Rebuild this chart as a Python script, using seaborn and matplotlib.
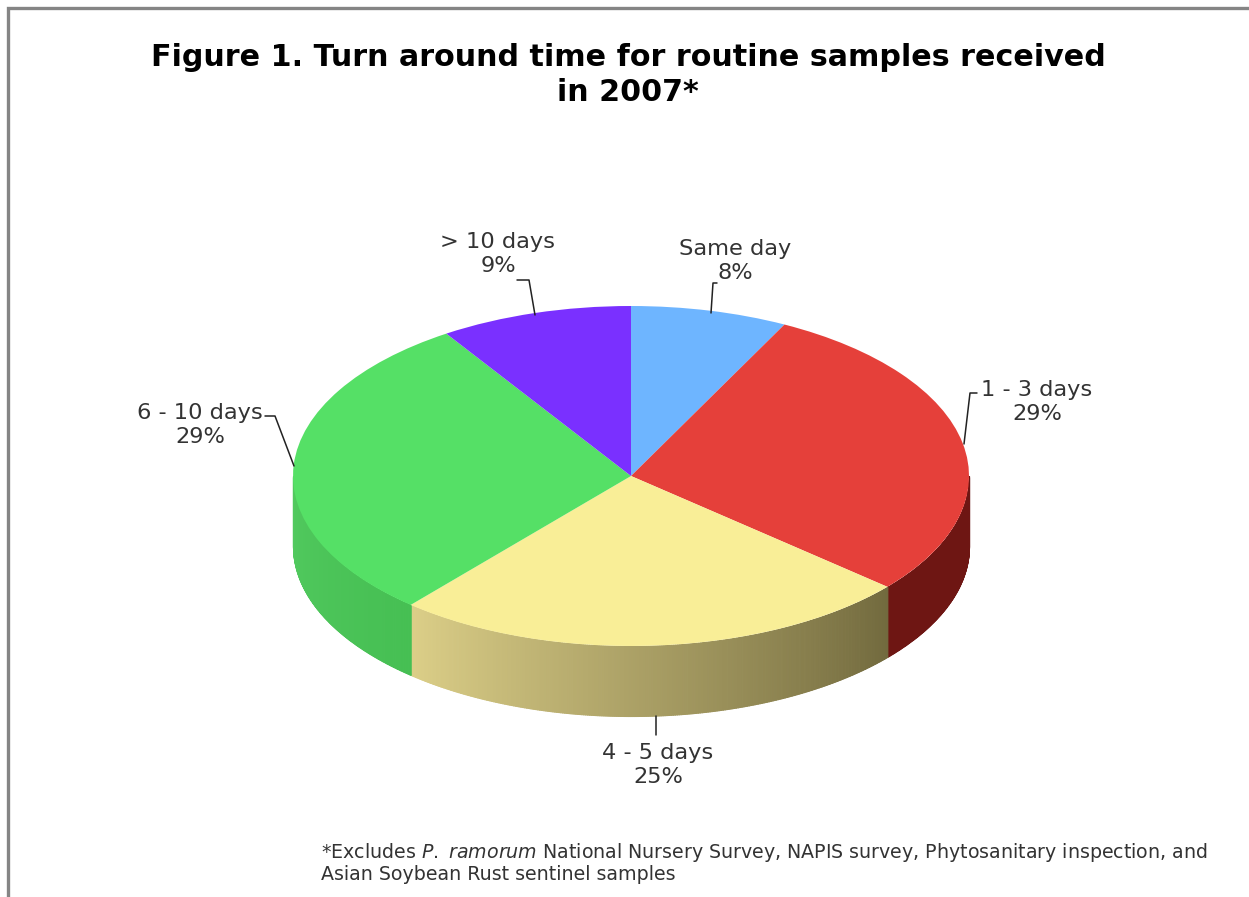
import numpy as np
import matplotlib
matplotlib.use("Agg")
import matplotlib.pyplot as plt
from matplotlib.colors import to_rgb
import seaborn as sns

# ── Data ───────────────────────────────────────────────────────────────────────
CATEGORIES = ["Same day", "1 - 3 days", "4 - 5 days", "6 - 10 days", "> 10 days"]
PERCENT_LABELS = [8, 29, 25, 29, 9]
# slice sizes, the labels above are rounded
SHARES = [7.5, 28.8, 25.0, 29.5, 9.2]
TOP_COLORS = ["#6eb5ff", "#e5403a", "#f9ee97", "#55e066", "#7a30ff"]
# side shade at the left and right end of each wedge's visible rim
SIDE_LEFT = ["#4a7fb5", "#6e1613", "#dccf88", "#52ca5f", "#5a22c0"]
SIDE_RIGHT = ["#4a7fb5", "#6e1613", "#726a3e", "#46bf53", "#5a22c0"]

W, H = 1249, 897
CX, CY, RX, RY, DEPTH = 631, 476, 338, 170, 70

sns.set_theme(style="white")
plt.rcParams["font.family"] = ["DejaVu Sans"]
plt.rcParams["mathtext.fontset"] = "dejavusans"

fig = plt.figure(figsize=(W / 100, H / 100), dpi=100, facecolor="white")

# page layer in pixel coordinates
page = fig.add_axes([0, 0, 1, 1], zorder=2)
page.set_xlim(0, W)
page.set_ylim(H, 0)
page.axis("off")
page.patch.set_alpha(0)

# ── Pie: one data unit is RX px across and RY px down, which gives the tilt ────
y_top, y_bot = 1.1, -1.6
left, right = CX - 1.1 * RX, CX + 1.1 * RX
top_px, bot_px = CY - y_top * RY, CY - y_bot * RY
ax = fig.add_axes([left / W, 1 - bot_px / H, (right - left) / W, (bot_px - top_px) / H], zorder=1)

wedges, _ = ax.pie(SHARES, colors=TOP_COLORS, startangle=90, counterclock=False,
                   radius=1, center=(0, 0), wedgeprops={"linewidth": 0, "zorder": 5})
ax.set_aspect("auto")
ax.set_xlim(-1.1, 1.1)
ax.set_ylim(y_bot, y_top)
ax.axis("off")

# rim of the disc: only the front half (180-360 deg) can be seen
d = DEPTH / RY
for wedge, c0, c1 in zip(wedges, SIDE_LEFT, SIDE_RIGHT):
    for shift in (0, 360, -360):
        a0 = max(wedge.theta1 + shift, 180)
        a1 = min(wedge.theta2 + shift, 360)
        if a1 <= a0:
            continue
        edges = np.linspace(a0, a1, int((a1 - a0) * 3) + 2)
        n = len(edges) - 1
        for i in range(n):
            th = np.radians(np.linspace(edges[i], edges[i + 1], 3))
            x, y = np.cos(th), np.sin(th)
            t = (i + 0.5) / n
            col = tuple((1 - t) * np.array(to_rgb(c0)) + t * np.array(to_rgb(c1)))
            ax.fill_between(x, y - d, y, color=col, linewidth=0.8, zorder=2)

# ── Frame (top and left only, the page is cut off) ─────────────────────────────
FRAME = "#858585"
page.plot([8, 8, W], [H, 8, 8], color=FRAME, lw=2.4, solid_joinstyle="miter")

# ── Text ───────────────────────────────────────────────────────────────────────
page.text(628, 75, "Figure 1. Turn around time for routine samples received\nin 2007*",
          ha="center", va="center", fontsize=21.7, fontweight="bold", color="black",
          linespacing=1.24)

LABEL_POS = [(735, 261), (1037, 402), (658, 765), (200, 425), (498, 254)]
for name, pct, (lx, ly) in zip(CATEGORIES, PERCENT_LABELS, LABEL_POS):
    page.text(lx, ly, f"{name}\n{pct}%", ha="center", va="center", fontsize=16.2,
              color="#333333", linespacing=1.28)

LEADERS = [
    ([711, 713, 717], [313, 283, 283]),
    ([964, 970, 977], [444, 393, 393]),
    ([656, 656], [716, 735]),
    ([294, 275, 265], [466, 416, 416]),
    ([535, 529, 517], [315, 280, 280]),
]
for xs, ys in LEADERS:
    page.plot(xs, ys, color="#222222", lw=1.1)

page.text(321, 853, r"*Excludes $\mathit{P.}$ $\mathit{ramorum}$ National Nursery Survey, NAPIS survey, Phytosanitary inspection, and",
          ha="left", va="center", fontsize=13.7, color="#333333")
page.text(321, 875, "Asian Soybean Rust sentinel samples",
          ha="left", va="center", fontsize=13.7, color="#333333")

fig.savefig("out.png", dpi=100, facecolor="white")
